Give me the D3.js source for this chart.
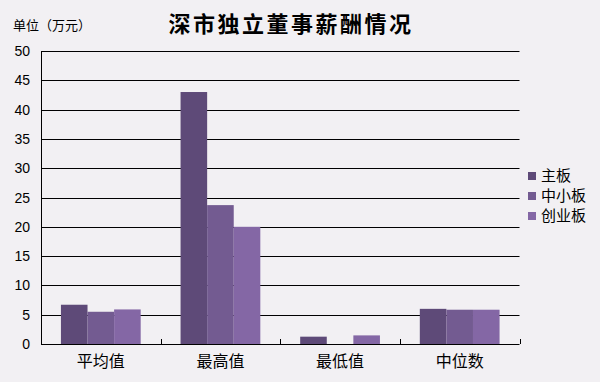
<!DOCTYPE html>
<html><head><meta charset="utf-8">
<script src="https://cdn.jsdelivr.net/npm/d3@7"></script>
<style>
html,body{margin:0;padding:0;background:#f2f0f3;}
svg{display:block;}
</style></head>
<body>
<script>
const categories = ["平均值","最高值","最低值","中位数"];
const seriesNames = ["主板","中小板","创业板"];
const mainBoard = [6.7, 43.0, 1.25, 6.0];
const smeBoard = [5.5, 23.7, 0, 5.85];
const gemBoard = [5.9, 20.0, 1.47, 5.85];
const yTicks = [0,5,10,15,20,25,30,35,40,45,50];
const colors = ["#5e4a78","#735b91","#8467a5"];

(function(){
const W=600,H=382;
const svg=d3.select("body").append("svg").attr("width",W).attr("height",H);
svg.append("rect").attr("width",W).attr("height",H).attr("fill","#f2f0f3");

const pL=41,pR=519.5,pT=51,pB=344;
const x=d3.scaleBand().domain(categories).range([pL,pR]).paddingInner(0).paddingOuter(0);
const x1=d3.scaleBand().domain(seriesNames).range([0,x.bandwidth()]).paddingOuter(0.75).paddingInner(0);
const y=d3.scaleLinear().domain([0,50]).range([pB,pT]);

const font="'Liberation Sans', Arial, sans-serif";
const cjk="'Noto Sans CJK SC', sans-serif";

svg.append("g").selectAll("line").data(yTicks.filter(d=>d>0)).join("line")
  .attr("x1",pL).attr("x2",pR).attr("y1",d=>Math.round(y(d))+0.5).attr("y2",d=>Math.round(y(d))+0.5)
  .attr("stroke","#000").attr("stroke-width",1);

const data=[mainBoard,smeBoard,gemBoard];
categories.forEach((c,i)=>{
  seriesNames.forEach((s,j)=>{
    const v=data[j][i];
    if(v<=0) return;
    svg.append("rect").attr("x",x(c)+x1(s)).attr("width",x1.bandwidth())
      .attr("y",y(v)).attr("height",y(0)-y(v)).attr("fill",colors[j]);
  });
});

svg.append("line").attr("x1",pL+0.5).attr("x2",pL+0.5).attr("y1",pT).attr("y2",pB).attr("stroke","#000");
svg.append("line").attr("x1",pL).attr("x2",pR).attr("y1",pB+0.5).attr("y2",pB+0.5).attr("stroke","#000");
const bounds=categories.map(c=>x(c)).concat([pR]);
svg.append("g").selectAll("line").data(bounds.slice(1)).join("line")
  .attr("x1",d=>Math.round(d)+0.5).attr("x2",d=>Math.round(d)+0.5).attr("y1",pB-5).attr("y2",pB)
  .attr("stroke","#000");

svg.append("g").selectAll("text").data(yTicks).join("text")
  .attr("x",30).attr("y",d=>y(d)+5).attr("text-anchor","end")
  .attr("font-family",font).attr("font-size",14).attr("fill","#000").text(d=>d);

svg.append("g").selectAll("text").data(categories).join("text")
  .attr("x",d=>x(d)+x.bandwidth()/2).attr("y",367).attr("text-anchor","middle")
  .attr("font-family",cjk).attr("font-size",16).attr("fill","#000").text(d=>d);

svg.append("text").attr("x",291).attr("y",32).attr("text-anchor","middle")
  .attr("font-family",cjk).attr("font-weight","bold").attr("font-size",22).attr("letter-spacing",2.5)
  .attr("fill","#000").text("深市独立董事薪酬情况");
svg.append("text").attr("x",13).attr("y",30)
  .attr("font-family",cjk).attr("font-size",13).attr("fill","#000").text("单位（万元）");

const lg=svg.append("g");
seriesNames.forEach((s,j)=>{
  const cy=176+j*20;
  lg.append("rect").attr("x",528).attr("y",cy-4).attr("width",8).attr("height",8).attr("fill",colors[j]);
  lg.append("text").attr("x",541).attr("y",cy+5).attr("font-family",cjk).attr("font-size",15).attr("fill","#000").text(s);
});
})();
</script>
</body></html>
